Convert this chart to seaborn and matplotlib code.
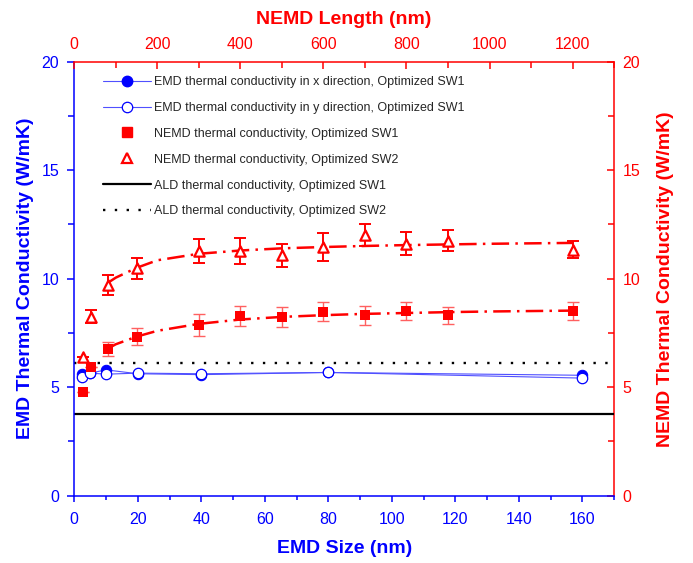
import numpy as np
import pandas as pd
import matplotlib
matplotlib.use("Agg")
import matplotlib.pyplot as plt
import seaborn as sns
from matplotlib.ticker import MultipleLocator
from matplotlib.lines import Line2D

# ── data ─────────────────────────────────────────────────────────────────────
EMD_SIZE = [2.5, 5, 10, 20, 40, 80, 160]
EMD_X    = [5.62, 5.65, 5.80, 5.62, 5.58, 5.68, 5.55]
EMD_Y    = [5.45, 5.65, 5.60, 5.65, 5.62, 5.68, 5.42]
EMD_ERR  = [0.20, 0.20, 0.20, 0.20, 0.20, 0.20, 0.20]

NEMD_LEN     = [20, 40, 80, 150, 300, 400, 500, 600, 700, 800, 900, 1200]
NEMD_SW1     = [4.79, 5.95, 6.75, 7.33, 7.87, 8.30, 8.23, 8.48, 8.31, 8.52, 8.31, 8.52]
NEMD_SW1_ERR = [0.0, 0.0, 0.33, 0.38, 0.50, 0.46, 0.47, 0.45, 0.42, 0.42, 0.38, 0.42]
NEMD_SW2     = [6.41, 8.25, 9.71, 10.48, 11.29, 11.29, 11.08, 11.47, 12.01, 11.62, 11.75, 11.34]
NEMD_SW2_ERR = [0.0, 0.30, 0.44, 0.48, 0.55, 0.59, 0.52, 0.65, 0.52, 0.52, 0.48, 0.39]

FIT_LEN = [80, 100, 150, 200, 300, 400, 500, 600, 700, 800, 900, 1000, 1100, 1200]
FIT_SW1 = [6.77, 6.98, 7.33, 7.60, 7.92, 8.12, 8.24, 8.32, 8.38, 8.42, 8.46, 8.49, 8.51, 8.53]
FIT_SW2 = [9.80, 10.05, 10.50, 10.85, 11.15, 11.30, 11.40, 11.46, 11.51, 11.55, 11.58, 11.61, 11.63, 11.65]

ALD_SW1 = 3.77
ALD_SW2 = 6.13

LABELS = [
    "EMD thermal conductivity in x direction, Optimized SW1",
    "EMD thermal conductivity in y direction, Optimized SW1",
    "NEMD thermal conductivity, Optimized SW1",
    "NEMD thermal conductivity, Optimized SW2",
    "ALD thermal conductivity, Optimized SW1",
    "ALD thermal conductivity, Optimized SW2",
]

BLUE = "#0000ff"
RED = "#ff0000"

sns.set_style("ticks")
plt.rcParams["font.family"] = ["Liberation Sans", "DejaVu Sans"]

emd = pd.DataFrame({"size": EMD_SIZE, "kx": EMD_X, "ky": EMD_Y})
nemd = pd.DataFrame({"L": NEMD_LEN, "sw1": NEMD_SW1, "sw2": NEMD_SW2})
fit = pd.DataFrame({"L": FIT_LEN, "sw1": FIT_SW1, "sw2": FIT_SW2})

fig = plt.figure(figsize=(6.93, 5.63), dpi=100)
ax = fig.add_axes([0.1072, 0.1195, 0.7789, 0.7709])

# ALD reference lines
ax.axhline(ALD_SW1, color="black", lw=1.6, zorder=2)
ax.axhline(ALD_SW2, color="black", lw=1.7, ls=(0, (1, 4)), dash_capstyle="butt", zorder=2)

# EMD points
ax.errorbar(EMD_SIZE, EMD_X, yerr=EMD_ERR, fmt="none", ecolor=BLUE, elinewidth=0.7, capsize=0, zorder=3)
ax.errorbar(EMD_SIZE, EMD_Y, yerr=EMD_ERR, fmt="none", ecolor=BLUE, elinewidth=0.7, capsize=0, zorder=3)
sns.lineplot(data=emd, x="size", y="kx", ax=ax, color="#5050ff", lw=0.8, marker="o",
             markersize=7.5, markerfacecolor=BLUE, markeredgecolor=BLUE, zorder=4)
sns.lineplot(data=emd, x="size", y="ky", ax=ax, color="#5050ff", lw=0.8, marker="o",
             markersize=7.5, markerfacecolor="white", markeredgecolor=BLUE, markeredgewidth=0.9,
             zorder=4)

ax.set_xlim(0, 170)
ax.set_ylim(0, 20)

# NEMD on top axis
ax2 = ax.twiny()
ax2.set_xlim(0, 1300)
sns.lineplot(data=fit, x="L", y="sw1", ax=ax2, color=RED, lw=1.8,
             ls=(0, (7, 2.5, 1, 2.5)), zorder=3)
sns.lineplot(data=fit, x="L", y="sw2", ax=ax2, color=RED, lw=1.8,
             ls=(0, (7, 2.5, 1, 2.5)), zorder=3)
ax2.errorbar(NEMD_LEN, NEMD_SW1, yerr=NEMD_SW1_ERR, fmt="none", ecolor="#ff6060",
             elinewidth=1.0, capsize=4, capthick=1.0, zorder=4)
ax2.errorbar(NEMD_LEN, NEMD_SW2, yerr=NEMD_SW2_ERR, fmt="none", ecolor=RED,
             elinewidth=1.4, capsize=4, capthick=1.4, zorder=4)
sns.scatterplot(data=nemd, x="L", y="sw1", ax=ax2, marker="s", s=42, color=RED,
                edgecolor=RED, linewidth=0, zorder=5)
sns.scatterplot(data=nemd, x="L", y="sw2", ax=ax2, marker="^", s=55, facecolor="white",
                edgecolor=RED, linewidth=1.6, zorder=5)
ax2.set_ylim(0, 20)

# ── axes styling ─────────────────────────────────────────────────────────────
for s in ["top", "right"]:
    ax.spines[s].set_visible(False)
for s in ["left", "bottom", "right"]:
    ax2.spines[s].set_visible(False)
ax.spines["left"].set_color(BLUE)
ax.spines["bottom"].set_color(BLUE)
ax2.spines["top"].set_color(RED)
for sp in [ax.spines["left"], ax.spines["bottom"], ax2.spines["top"]]:
    sp.set_linewidth(1.1)

ax.xaxis.set_major_locator(MultipleLocator(20))
ax.xaxis.set_minor_locator(MultipleLocator(10))
ax.yaxis.set_major_locator(MultipleLocator(5))
ax.yaxis.set_minor_locator(MultipleLocator(2.5))
ax.tick_params(axis="x", which="both", direction="out", colors=BLUE, labelsize=11.5, pad=8, width=1.1)
ax.tick_params(axis="x", which="major", length=4)
ax.tick_params(axis="x", which="minor", length=3)
ax.tick_params(axis="y", which="both", direction="out", colors=BLUE, labelsize=11.5, pad=6, width=1.1)
ax.tick_params(axis="y", which="major", length=5)
ax.tick_params(axis="y", which="minor", length=4)

ax2.xaxis.set_major_locator(MultipleLocator(200))
ax2.xaxis.set_minor_locator(MultipleLocator(100))
ax2.tick_params(axis="x", which="both", direction="in", colors=RED, labelsize=11.5, pad=7, width=1.1)
ax2.tick_params(axis="x", which="major", length=5)
ax2.tick_params(axis="x", which="minor", length=4)

ax3 = ax.secondary_yaxis("right")
ax3.spines["right"].set_color(RED)
ax3.spines["right"].set_linewidth(1.1)
ax3.yaxis.set_major_locator(MultipleLocator(5))
ax3.yaxis.set_minor_locator(MultipleLocator(2.5))
ax3.tick_params(axis="y", which="both", direction="in", colors=RED, labelsize=11.5, pad=6, width=1.1)
ax3.tick_params(axis="y", which="major", length=5)
ax3.tick_params(axis="y", which="minor", length=4)

ax.set_xlabel("EMD Size (nm)", fontsize=14, fontweight="bold", color=BLUE)
ax.set_ylabel("EMD Thermal Conductivity (W/mK)", fontsize=14, fontweight="bold", color=BLUE)
ax2.set_xlabel("NEMD Length (nm)", fontsize=14, fontweight="bold", color=RED)
ax3.set_ylabel("NEMD Thermal Conductivity (W/mK)", fontsize=14, fontweight="bold", color=RED,
               labelpad=12)
ax.xaxis.set_label_coords(0.5, -0.103)
ax.yaxis.set_label_coords(-0.075, 0.5)
ax2.xaxis.set_label_coords(0.5, 1.088)

# legend
handles = [
    Line2D([], [], color="#5050ff", lw=0.8, marker="o", markersize=7.5,
           markerfacecolor=BLUE, markeredgecolor=BLUE),
    Line2D([], [], color="#5050ff", lw=0.8, marker="o", markersize=7.5,
           markerfacecolor="white", markeredgecolor=BLUE, markeredgewidth=0.9),
    Line2D([], [], ls="none", marker="s", markersize=6.5, color=RED),
    Line2D([], [], ls="none", marker="^", markersize=7, markerfacecolor="white",
           markeredgecolor=RED, markeredgewidth=1.6),
    Line2D([], [], color="black", lw=1.6),
    Line2D([], [], color="black", lw=1.7, ls=(0, (1, 4)), dash_capstyle="butt"),
]
ax2.legend(handles, LABELS, loc="upper left", bbox_to_anchor=(103 / 693, 1 - 76 / 563),
           bbox_transform=fig.transFigure, frameon=False, fontsize=9, borderpad=0,
           borderaxespad=0, handlelength=3.8, handletextpad=0.3, labelspacing=1.11)

fig.savefig("out.png", dpi=100)
